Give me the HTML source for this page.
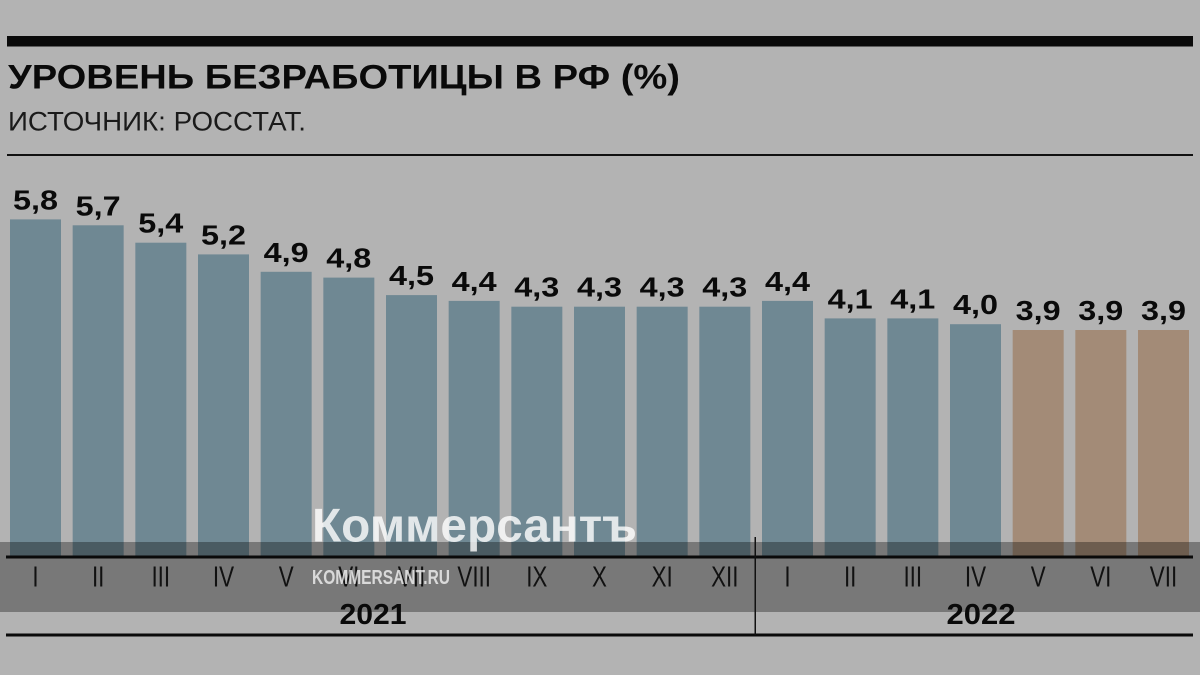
<!DOCTYPE html>
<html>
<head>
<meta charset="utf-8">
<style>
html,body{margin:0;padding:0;background:#b3b3b3;}
svg{display:block;}
text{font-family:"Liberation Sans","DejaVu Sans",sans-serif;}
</style>
</head>
<body>
<svg width="1200" height="675" viewBox="0 0 1200 675" xmlns="http://www.w3.org/2000/svg">
<rect x="0" y="0" width="1200" height="675" fill="#b3b3b3"/>

<!-- header -->
<rect x="7" y="36" width="1186" height="10.5" fill="#0a0a0a"/>
<text x="8" y="88.5" font-size="34" font-weight="bold" fill="#0a0a0a" textLength="672" lengthAdjust="spacingAndGlyphs">УРОВЕНЬ БЕЗРАБОТИЦЫ В РФ (%)</text>
<text x="8" y="130.5" font-size="27" fill="#1a1a1a" textLength="298" lengthAdjust="spacingAndGlyphs">ИСТОЧНИК: РОССТАТ.</text>
<rect x="7" y="154" width="1186" height="2" fill="#111"/>

<!-- bars -->
<g fill="#6f8893">
<rect x="10" y="219.4" width="51" height="337.6"/>
<rect x="72.67" y="225.3" width="51" height="331.7"/>
<rect x="135.33" y="242.7" width="51" height="314.3"/>
<rect x="198" y="254.4" width="51" height="302.6"/>
<rect x="260.67" y="271.8" width="51" height="285.2"/>
<rect x="323.33" y="277.6" width="51" height="279.4"/>
<rect x="386" y="295.1" width="51" height="261.9"/>
<rect x="448.67" y="300.9" width="51" height="256.1"/>
<rect x="511.33" y="306.7" width="51" height="250.3"/>
<rect x="574" y="306.7" width="51" height="250.3"/>
<rect x="636.67" y="306.7" width="51" height="250.3"/>
<rect x="699.33" y="306.7" width="51" height="250.3"/>
<rect x="762" y="300.9" width="51" height="256.1"/>
<rect x="824.67" y="318.4" width="51" height="238.6"/>
<rect x="887.33" y="318.4" width="51" height="238.6"/>
<rect x="950" y="324.2" width="51" height="232.8"/>
</g>
<g fill="#a38b77">
<rect x="1012.67" y="330" width="51" height="227"/>
<rect x="1075.33" y="330" width="51" height="227"/>
<rect x="1138" y="330" width="51" height="227"/>
</g>

<!-- value labels -->
<g font-size="28" font-weight="bold" fill="#0a0a0a" text-anchor="middle">
<text x="35.5" y="209.4" textLength="45" lengthAdjust="spacingAndGlyphs">5,8</text>
<text x="98.2" y="215.3" textLength="45" lengthAdjust="spacingAndGlyphs">5,7</text>
<text x="160.8" y="232.7" textLength="45" lengthAdjust="spacingAndGlyphs">5,4</text>
<text x="223.5" y="244.4" textLength="45" lengthAdjust="spacingAndGlyphs">5,2</text>
<text x="286.2" y="261.8" textLength="45" lengthAdjust="spacingAndGlyphs">4,9</text>
<text x="348.8" y="267.6" textLength="45" lengthAdjust="spacingAndGlyphs">4,8</text>
<text x="411.5" y="285.1" textLength="45" lengthAdjust="spacingAndGlyphs">4,5</text>
<text x="474.2" y="290.9" textLength="45" lengthAdjust="spacingAndGlyphs">4,4</text>
<text x="536.8" y="296.7" textLength="45" lengthAdjust="spacingAndGlyphs">4,3</text>
<text x="599.5" y="296.7" textLength="45" lengthAdjust="spacingAndGlyphs">4,3</text>
<text x="662.2" y="296.7" textLength="45" lengthAdjust="spacingAndGlyphs">4,3</text>
<text x="724.8" y="296.7" textLength="45" lengthAdjust="spacingAndGlyphs">4,3</text>
<text x="787.5" y="290.9" textLength="45" lengthAdjust="spacingAndGlyphs">4,4</text>
<text x="850.2" y="308.4" textLength="45" lengthAdjust="spacingAndGlyphs">4,1</text>
<text x="912.8" y="308.4" textLength="45" lengthAdjust="spacingAndGlyphs">4,1</text>
<text x="975.5" y="314.2" textLength="45" lengthAdjust="spacingAndGlyphs">4,0</text>
<text x="1038.2" y="320" textLength="45" lengthAdjust="spacingAndGlyphs">3,9</text>
<text x="1100.8" y="320" textLength="45" lengthAdjust="spacingAndGlyphs">3,9</text>
<text x="1163.5" y="320" textLength="45" lengthAdjust="spacingAndGlyphs">3,9</text>
</g>

<!-- dark overlay band -->
<rect x="0" y="542" width="1200" height="70" fill="#000" fill-opacity="0.33"/>

<!-- axis lines -->
<rect x="6" y="555.5" width="1187" height="3" fill="#0a0a0a"/>
<rect x="6" y="633.5" width="1187" height="3" fill="#0a0a0a"/>
<rect x="754.5" y="537" width="1.5" height="98" fill="#111"/>

<!-- month labels -->
<g font-size="29" fill="#111" text-anchor="middle">
<text x="35.5" y="586.5" textLength="6.2" lengthAdjust="spacingAndGlyphs">I</text>
<text x="98.2" y="586.5" textLength="12.5" lengthAdjust="spacingAndGlyphs">II</text>
<text x="160.8" y="586.5" textLength="18.7" lengthAdjust="spacingAndGlyphs">III</text>
<text x="223.5" y="586.5" textLength="21.2" lengthAdjust="spacingAndGlyphs">IV</text>
<text x="286.2" y="586.5" textLength="14.9" lengthAdjust="spacingAndGlyphs">V</text>
<text x="348.8" y="586.5" textLength="21.2" lengthAdjust="spacingAndGlyphs">VI</text>
<text x="411.5" y="586.5" textLength="27.4" lengthAdjust="spacingAndGlyphs">VII</text>
<text x="474.2" y="586.5" textLength="33.6" lengthAdjust="spacingAndGlyphs">VIII</text>
<text x="536.8" y="586.5" textLength="21.2" lengthAdjust="spacingAndGlyphs">IX</text>
<text x="599.5" y="586.5" textLength="14.9" lengthAdjust="spacingAndGlyphs">X</text>
<text x="662.2" y="586.5" textLength="21.2" lengthAdjust="spacingAndGlyphs">XI</text>
<text x="724.8" y="586.5" textLength="27.4" lengthAdjust="spacingAndGlyphs">XII</text>
<text x="787.5" y="586.5" textLength="6.2" lengthAdjust="spacingAndGlyphs">I</text>
<text x="850.2" y="586.5" textLength="12.5" lengthAdjust="spacingAndGlyphs">II</text>
<text x="912.8" y="586.5" textLength="18.7" lengthAdjust="spacingAndGlyphs">III</text>
<text x="975.5" y="586.5" textLength="21.2" lengthAdjust="spacingAndGlyphs">IV</text>
<text x="1038.2" y="586.5" textLength="14.9" lengthAdjust="spacingAndGlyphs">V</text>
<text x="1100.8" y="586.5" textLength="21.2" lengthAdjust="spacingAndGlyphs">VI</text>
<text x="1163.5" y="586.5" textLength="27.4" lengthAdjust="spacingAndGlyphs">VII</text>
</g>

<!-- year labels -->
<g font-size="29" font-weight="bold" fill="#0a0a0a" text-anchor="middle">
<text x="373" y="624" textLength="67" lengthAdjust="spacingAndGlyphs">2021</text>
<text x="981" y="624" textLength="69" lengthAdjust="spacingAndGlyphs">2022</text>
</g>

<!-- watermark -->
<text x="312" y="541.5" font-size="47" font-weight="bold" fill="#ffffff" fill-opacity="0.8" textLength="325" lengthAdjust="spacingAndGlyphs">Коммерсантъ</text>
<text x="312" y="584" font-size="20" font-weight="bold" fill="#ffffff" fill-opacity="0.72" textLength="138" lengthAdjust="spacingAndGlyphs">KOMMERSANT.RU</text>
</svg>
</body>
</html>
